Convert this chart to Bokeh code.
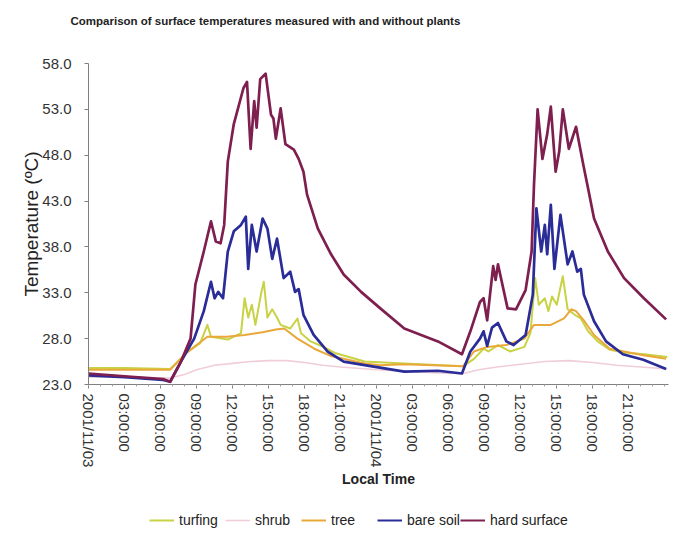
from bokeh.plotting import figure
from bokeh.models import Range1d, FixedTicker, Legend, LegendItem
from bokeh.layouts import column
from bokeh.embed import file_html
from bokeh.resources import INLINE

# ---- data: (hour since 2001/11/03 00:00, surface temperature in degC) ----
hard_surface = [(0, 24.2), (3, 23.9), (6.2, 23.6), (6.8, 23.3), (7.7, 25.5), (8.5, 28.0), (8.9, 33.9),
                (9.6, 37.5), (10.2, 40.8), (10.6, 38.6), (11.0, 38.4), (11.3, 40.4), (11.6, 47.3),
                (12.1, 51.4), (12.9, 55.3), (13.2, 56.0), (13.5, 48.7), (13.8, 53.9), (14.0, 51.0),
                (14.3, 56.3), (14.75, 56.9), (15.2, 52.4), (15.4, 52.0), (15.6, 49.8), (16.0, 53.1),
                (16.4, 49.2), (17.1, 48.6), (17.5, 47.6), (17.9, 46.2), (18.2, 43.7), (19.1, 40.0),
                (20.2, 37.2), (21.25, 35.0), (22.7, 33.1), (24.3, 31.3), (26.3, 29.1), (29.1, 27.7),
                (31.1, 26.3), (31.8, 28.8), (32.6, 32.0), (32.9, 32.4), (33.2, 30.0), (33.7, 35.9),
                (33.9, 34.4), (34.1, 36.1), (34.9, 31.3), (35.6, 31.2), (36.4, 33.3), (36.9, 37.5),
                (37.1, 44.8), (37.4, 53.0), (37.8, 47.6), (38.2, 50.3), (38.5, 53.3), (38.9, 46.2),
                (39.2, 48.4), (39.5, 53.0), (40.0, 48.7), (40.6, 51.1), (41.2, 47.0), (41.6, 44.4),
                (42.1, 41.1), (43.25, 37.5), (44.6, 34.6), (46.25, 32.4), (48.1, 30.1)]

bare_soil = [(0, 24.0), (3, 23.8), (6.2, 23.5), (6.8, 23.3), (7.7, 25.5), (8.8, 28.0), (9.6, 31.0),
             (10.2, 34.2), (10.5, 32.4), (10.8, 33.1), (11.2, 32.4), (11.6, 37.5), (12.1, 39.7),
             (12.7, 40.4), (13.1, 41.3), (13.3, 35.6), (13.6, 40.4), (14.0, 37.5), (14.5, 41.1),
             (14.9, 40.0), (15.3, 36.7), (15.7, 38.9), (16.25, 34.6), (16.8, 35.3), (17.2, 33.1),
             (17.5, 33.4), (17.9, 30.6), (18.75, 28.4), (19.9, 26.6), (21.25, 25.5), (23.5, 25.0),
             (24.9, 24.7), (26.3, 24.4), (29.1, 24.5), (31.1, 24.2), (31.8, 26.6), (32.6, 28.0),
             (32.9, 28.8), (33.2, 27.2), (33.6, 29.2), (34.1, 29.7), (34.8, 27.7), (35.4, 27.3),
             (36.4, 28.4), (37.0, 32.8), (37.3, 42.2), (37.7, 37.5), (38.0, 40.4), (38.2, 37.2),
             (38.5, 42.6), (38.8, 35.6), (39.3, 41.5), (39.9, 36.1), (40.3, 37.5), (40.7, 35.3),
             (41.0, 35.6), (41.25, 32.8), (42.1, 29.9), (43.1, 27.7), (44.5, 26.3), (46.2, 25.7),
             (48.1, 24.7)]

turfing = [(0, 24.8), (3, 24.8), (6.8, 24.7), (8.2, 26.5), (9.3, 27.5), (9.9, 29.5), (10.2, 28.2),
           (11.6, 27.9), (12.7, 28.6), (13.0, 32.4), (13.3, 30.3), (13.6, 31.7), (13.9, 29.5),
           (14.4, 33.1), (14.6, 34.2), (14.9, 30.3), (15.3, 31.2), (15.7, 30.3), (16.0, 29.5),
           (16.8, 29.1), (17.4, 30.2), (17.7, 28.6), (18.5, 27.7), (19.4, 27.2), (20.6, 26.4),
           (23.0, 25.5), (26.3, 25.3), (31.2, 25.0), (32.1, 25.8), (32.9, 26.9), (33.3, 26.6),
           (34.1, 27.3), (35.1, 26.6), (36.3, 27.1), (36.8, 28.6), (37.2, 34.6), (37.5, 31.7),
           (38.0, 32.4), (38.3, 31.0), (38.6, 32.6), (39.0, 31.7), (39.5, 34.8), (39.9, 31.2),
           (40.6, 30.5), (41.0, 30.2), (41.6, 28.8), (42.4, 27.7), (43.4, 26.8), (44.6, 26.5),
           (46.3, 26.3), (48.2, 26.0)]

shrub = [(0, 23.8), (3, 23.8), (6.8, 23.7), (8.0, 24.1), (9.0, 24.6), (10.5, 25.1), (12.0, 25.3),
         (13.5, 25.5), (15.0, 25.6), (16.5, 25.6), (18.0, 25.4), (19.5, 25.1), (21.0, 24.9),
         (24.0, 24.6), (27.0, 24.4), (30.0, 24.2), (31.2, 24.2), (32.5, 24.6), (34.0, 24.9),
         (36.0, 25.2), (38.0, 25.5), (40.0, 25.6), (42.0, 25.4), (44.0, 25.1), (46.0, 24.9),
         (48.2, 24.7)]

tree = [(0, 24.6), (3, 24.6), (6.8, 24.6), (8.2, 26.5), (9.9, 28.2), (11.5, 28.2), (13.0, 28.4),
        (14.5, 28.7), (15.6, 29.0), (16.3, 29.1), (17.4, 28.0), (18.8, 26.9), (20.2, 26.1),
        (23.0, 25.3), (24.3, 25.1), (26.3, 25.2), (31.2, 25.0), (32.1, 26.6), (33.2, 27.1),
        (34.8, 27.3), (36.3, 28.0), (37.1, 29.5), (38.5, 29.5), (39.6, 30.2), (40.2, 31.2),
        (40.6, 31.0), (41.3, 29.9), (42.1, 28.4), (43.4, 26.9), (44.6, 26.6), (46.2, 26.2),
        (48.1, 25.8)]

x_tick_hours = [0, 3, 6, 9, 12, 15, 18, 21, 24, 27, 30, 33, 36, 39, 42, 45]
x_tick_labels = ["2001/11/03", "03:00:00", "06:00:00", "09:00:00", "12:00:00", "15:00:00",
                 "18:00:00", "21:00:00", "2001/11/04", "03:00:00", "06:00:00", "09:00:00",
                 "12:00:00", "15:00:00", "18:00:00", "21:00:00"]
y_ticks = [23, 28, 33, 38, 43, 48, 53, 58]

series = [("turfing", turfing, "#c9d245", 2.0),
          ("shrub", shrub, "#f0cdd8", 1.6),
          ("tree", tree, "#e9a83a", 2.0),
          ("bare soil", bare_soil, "#2a2c98", 2.7),
          ("hard surface", hard_surface, "#7e1f4f", 2.7)]

FONT = "Liberation Sans"

p = figure(frame_width=580, frame_height=321,
           min_border_left=88, min_border_right=8, min_border_top=62, min_border_bottom=107,
           x_range=Range1d(0, 48.3), y_range=Range1d(23, 58),
           output_backend="svg", toolbar_location=None,
           title="Comparison of surface temperatures measured with and without plants\n \n ")

p.title.text_font = FONT
p.title.text_font_size = "11.5px"
p.title.text_font_style = "bold"
p.title.text_color = "#222222"
p.title.align = "left"
p.title.offset = -18
p.title.standoff = 25

p.outline_line_color = None
p.xgrid.grid_line_color = None
p.ygrid.grid_line_color = None
p.background_fill_color = "white"
p.border_fill_color = "white"

for name, pts, color, w in series:
    xs = [t for t, _ in pts]
    ys = [v for _, v in pts]
    p.line(xs, ys, line_color=color, line_width=w, line_join="round")

# axes
xa = p.xaxis[0]
xa.ticker = FixedTicker(ticks=x_tick_hours, minor_ticks=list(range(0, 49)))
xa.major_label_overrides = {t: l for t, l in zip(x_tick_hours, x_tick_labels)}
xa.major_label_orientation = "vertical"
xa.axis_label = "Local Time"
xa.axis_label_text_font = FONT
xa.axis_label_text_font_style = "bold"
xa.axis_label_text_font_size = "14px"
xa.axis_label_standoff = 1
xa.major_label_text_font = FONT
xa.major_label_text_font_size = "15px"
xa.major_label_text_color = "#333333"
xa.major_label_standoff = 5

ya = p.yaxis[0]
ya.ticker = FixedTicker(ticks=y_ticks)
ya.major_label_overrides = {t: f"{t:.1f}" for t in y_ticks}
ya.axis_label = "Temperature (ºC)"
ya.axis_label_text_font = FONT
ya.axis_label_text_font_style = "normal"
ya.axis_label_text_font_size = "19px"
ya.axis_label_standoff = -3
ya.major_label_text_font = FONT
ya.major_label_text_font_size = "15px"
ya.major_label_text_color = "#333333"
ya.major_label_standoff = 13

for ax in (xa, ya):
    ax.axis_line_color = "#808080"
    ax.major_tick_line_color = "#808080"
    ax.major_tick_out = 4
    ax.major_tick_in = 0
    ax.minor_tick_out = 2
    ax.minor_tick_in = 0
    ax.axis_label_text_color = "#222222"
xa.minor_tick_line_color = "#a0a0a0"
ya.minor_tick_line_color = None

# ---- legend strip below the chart (series drawn off-view so only legend shows) ----
lf = figure(width=676, height=58, min_border=0, x_range=Range1d(100, 101), y_range=Range1d(0, 1),
            output_backend="svg", toolbar_location=None)
lf.axis.visible = False
lf.grid.grid_line_color = None
lf.outline_line_color = None
lf.background_fill_color = "white"
lf.border_fill_color = "white"
items = []
for name, pts, color, w in series:
    xs = [t for t, _ in pts]
    ys = [v for _, v in pts]
    r = lf.line(xs, ys, line_color=color, line_width=min(w, 2.0))
    items.append(LegendItem(label=name, renderers=[r]))

legend = Legend(items=items, orientation="horizontal", location=(61, 19),
                label_text_font=FONT, label_text_font_size="14px", label_text_color="#222222",
                glyph_width=25, label_standoff=5, label_width=46, spacing=0,
                border_line_color=None, background_fill_alpha=0, margin=0, padding=4)
lf.add_layout(legend, "center")

open("out.html", "w").write(file_html(column(p, lf, spacing=0), INLINE))
